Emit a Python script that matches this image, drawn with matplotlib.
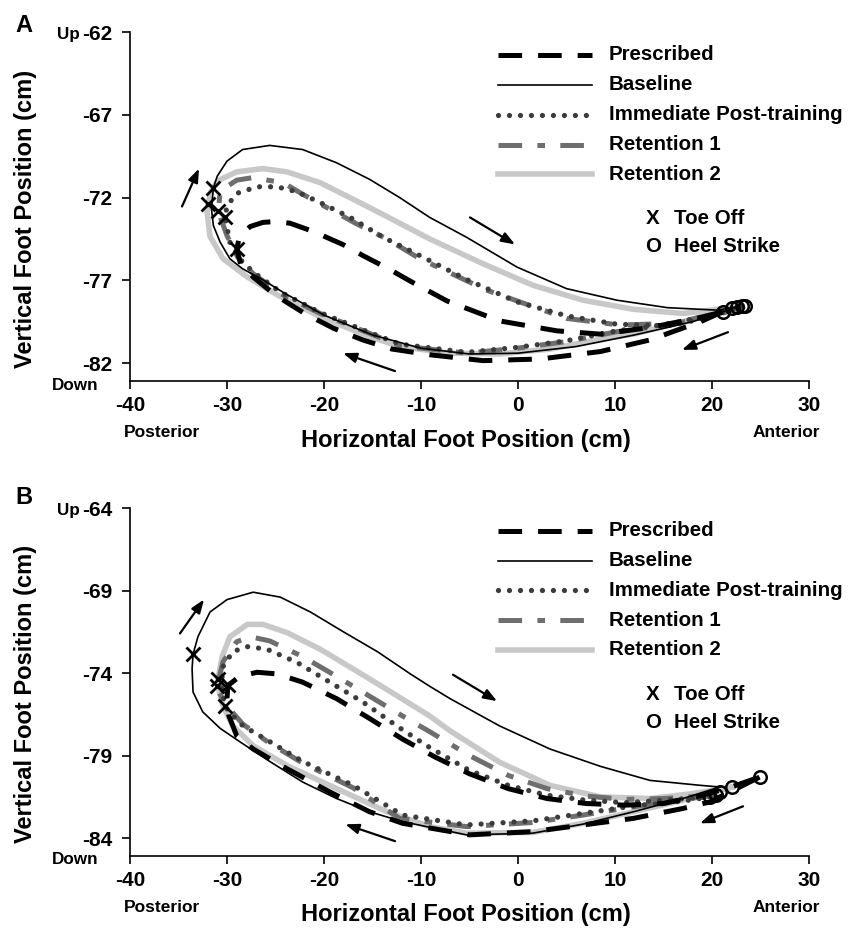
import numpy as np
import matplotlib
matplotlib.use('Agg')
import matplotlib.pyplot as plt

plt.rcParams['font.family'] = ['Liberation Sans', 'DejaVu Sans']
plt.rcParams['font.weight'] = 'bold'
plt.rcParams['axes.unicode_minus'] = False
plt.rcParams['lines.scale_dashes'] = False

# ---- panel A trajectories (x, y), heel strike -> stance -> toe off -> swing -> heel strike
a_prescribed = [(21.1, -78.9), (18.8, -79.5), (13.6, -80.6), (8.5, -81.3), (2.3, -81.75), (-3.6, -81.85),
                (-9.0, -81.5), (-13.0, -81.15), (-16.0, -80.6), (-19.0, -79.9), (-22.0, -79.0), (-25.0, -77.9),
                (-27.3, -76.8), (-28.6, -76.0), (-29.0, -75.1), (-28.8, -74.6), (-28.3, -74.1), (-27.6, -73.75),
                (-26.3, -73.5), (-25.0, -73.45), (-23.5, -73.55), (-21.1, -74.05), (-18.0, -74.85), (-16.0, -75.5),
                (-13.2, -76.35), (-11.1, -77.05), (-7.3, -78.25), (-1.9, -79.45), (4.0, -80.05), (8.5, -80.25),
                (13.6, -79.85), (18.8, -79.25), (21.1, -78.9)]
a_baseline = [(22.6, -78.6), (18.0, -79.5), (12.0, -80.3), (6.0, -81.0), (0.0, -81.4), (-5.0, -81.45),
              (-10.0, -81.1), (-15.0, -80.3), (-20.0, -79.1), (-24.0, -77.8), (-26.5, -76.9), (-28.4, -76.3),
              (-29.7, -75.7), (-30.7, -74.7), (-31.4, -73.7), (-31.6, -72.7), (-31.4, -71.4), (-31.0, -70.7),
              (-30.0, -69.8), (-28.4, -69.1), (-25.6, -68.85), (-22.2, -69.1), (-18.7, -69.9), (-15.3, -70.9),
              (-12.2, -72.0), (-9.1, -73.2), (-5.3, -74.4), (-0.1, -76.2), (5.0, -77.5), (10.2, -78.2),
              (15.4, -78.65), (20.5, -78.8), (22.6, -78.6)]
a_immediate = [(23.1, -78.55), (20.5, -79.05), (15.4, -79.65), (10.2, -80.05), (5.0, -80.65), (-0.1, -81.05),
               (-5.3, -81.35), (-12.2, -80.85), (-15.3, -80.15), (-20.4, -78.95), (-24.5, -77.7), (-27.3, -76.5),
               (-28.7, -75.7), (-29.7, -74.7), (-30.2, -73.2), (-30.0, -72.5), (-29.0, -71.75), (-26.9, -71.35),
               (-24.85, -71.35), (-22.8, -71.65), (-20.4, -72.3), (-17.3, -73.2), (-13.9, -74.4), (-10.8, -75.3),
               (-8.8, -75.9), (-5.3, -76.95), (-0.1, -78.3), (5.05, -79.15), (10.2, -79.65), (15.4, -79.75),
               (18.8, -79.35), (23.1, -78.55)]
a_retention1 = [(23.4, -78.55), (20.5, -79.1), (15.4, -79.7), (10.2, -80.1), (5.0, -80.7), (-0.1, -81.1),
                (-5.3, -81.4), (-12.2, -80.95), (-15.3, -80.2), (-20.4, -79.0), (-24.5, -77.8), (-27.3, -76.6),
                (-28.9, -75.6), (-30.0, -74.3), (-30.9, -72.85), (-30.7, -71.6), (-29.0, -70.95), (-27.4, -70.8),
                (-24.2, -71.1), (-22.2, -71.8), (-19.4, -72.7), (-16.6, -73.6), (-13.5, -74.5), (-10.1, -75.7),
                (-3.2, -77.6), (5.0, -79.3), (10.5, -79.7), (16.0, -79.6), (20.5, -79.0), (23.4, -78.55)]
a_retention2 = [(22.1, -78.65), (17.0, -79.5), (11.9, -80.25), (8.5, -80.55), (3.3, -81.15), (-1.9, -81.45),
                (-7.0, -81.4), (-12.2, -81.0), (-15.3, -80.4), (-20.4, -79.2), (-24.9, -77.85), (-27.9, -76.8),
                (-30.4, -75.7), (-31.75, -74.35), (-32.05, -72.9), (-31.96, -72.4), (-31.6, -71.6), (-31.0, -71.0),
                (-29.0, -70.45), (-26.3, -70.25), (-23.8, -70.45), (-20.4, -71.1), (-17.0, -72.1), (-13.5, -73.15),
                (-9.1, -74.5), (-3.6, -76.0), (1.55, -77.3), (6.7, -78.2), (11.9, -78.75), (17.0, -79.0),
                (22.1, -78.65)]
a_toe_x = [-31.44, -31.96, -30.93, -30.2, -28.97]
a_toe_y = [-71.4, -72.4, -72.84, -73.2, -75.1]
a_heel_x = [21.1, 22.1, 22.6, 23.1, 23.4]
a_heel_y = [-78.9, -78.65, -78.6, -78.55, -78.55]

# ---- panel B trajectories
b_prescribed = [(24.9, -80.3), (19.8, -81.8), (17.0, -82.2), (11.9, -82.8), (6.7, -83.2), (1.55, -83.6),
                (-5.0, -83.8), (-11.9, -83.1), (-15.3, -82.4), (-19.4, -81.2), (-23.8, -79.8), (-27.3, -78.6),
                (-29.0, -77.8), (-29.8, -76.6), (-30.0, -75.5), (-29.9, -74.75), (-28.7, -74.2), (-26.9, -73.95),
                (-24.85, -74.05), (-22.2, -74.55), (-18.7, -75.55), (-15.3, -76.75), (-11.9, -78.0), (-8.5, -79.1),
                (-5.0, -80.1), (-1.0, -81.0), (3.0, -81.6), (7.0, -81.9), (11.0, -82.0), (15.0, -81.9),
                (19.0, -81.4), (22.0, -80.9), (24.9, -80.3)]
b_baseline = [(20.8, -80.9), (17.0, -81.6), (11.9, -82.4), (6.7, -83.15), (1.5, -83.7), (-5.3, -83.8),
              (-11.9, -83.0), (-15.3, -82.4), (-18.7, -81.6), (-22.2, -80.6), (-25.6, -79.35), (-28.7, -78.15),
              (-30.7, -77.35), (-32.5, -76.35), (-33.5, -75.15), (-33.6, -73.75), (-33.5, -72.86), (-33.0, -71.8),
              (-31.75, -70.3), (-30.0, -69.55), (-27.3, -69.1), (-24.5, -69.4), (-21.4, -70.3), (-18.0, -71.5),
              (-14.5, -72.7), (-11.1, -74.05), (-9.1, -74.8), (-7.0, -75.55), (-1.9, -77.2), (3.3, -78.6),
              (8.5, -79.65), (13.6, -80.5), (18.8, -80.8), (20.8, -80.9)]
b_immediate = [(19.8, -81.5), (17.0, -81.75), (11.9, -82.05), (6.7, -82.5), (1.55, -82.95), (-5.3, -83.2),
               (-11.9, -82.6), (-17.0, -80.8), (-22.2, -79.35), (-25.6, -78.15), (-28.35, -77.2), (-29.7, -76.4),
               (-30.2, -76.0), (-30.6, -74.8), (-30.4, -73.6), (-29.4, -72.7), (-27.9, -72.4), (-25.9, -72.55),
               (-22.8, -73.35), (-19.4, -74.55), (-16.0, -75.75), (-12.5, -77.2), (-9.4, -78.4), (-5.0, -79.9),
               (-1.0, -80.8), (3.0, -81.4), (7.0, -81.7), (11.0, -81.85), (15.0, -81.7), (19.8, -81.5)]
b_retention1 = [(20.4, -81.4), (17.0, -81.65), (11.9, -82.1), (6.7, -82.6), (1.55, -83.05), (-5.3, -83.3),
                (-12.2, -82.8), (-17.0, -80.95), (-22.2, -79.45), (-25.6, -78.25), (-28.35, -77.1), (-30.0, -76.0),
                (-30.8, -75.2), (-31.03, -74.8), (-30.4, -73.3), (-29.0, -72.1), (-27.6, -71.8), (-25.6, -72.05),
                (-22.2, -73.0), (-18.7, -74.2), (-15.3, -75.4), (-11.9, -76.6), (-9.1, -77.55), (-5.0, -79.0),
                (-1.0, -80.2), (3.0, -81.0), (7.0, -81.45), (11.0, -81.65), (15.0, -81.6), (20.4, -81.4)]
b_retention2 = [(22.1, -80.9), (17.0, -81.7), (11.9, -82.4), (6.7, -83.1), (1.55, -83.65), (-5.3, -83.7),
                (-9.1, -83.3), (-13.5, -82.4), (-18.7, -81.0), (-23.8, -79.6), (-27.3, -78.4), (-29.4, -77.2),
                (-30.4, -76.0), (-30.8, -75.1), (-30.93, -74.36), (-30.5, -73.0), (-29.7, -71.8), (-27.9, -71.05),
                (-26.3, -71.05), (-23.8, -71.55), (-20.4, -72.55), (-17.0, -73.75), (-13.5, -75.0), (-9.1, -76.6),
                (-7.0, -77.5), (-1.9, -79.4), (3.3, -80.8), (8.5, -81.5), (13.6, -81.6), (18.0, -81.3), (22.1, -80.9)]
b_toe_x = [-33.5, -30.93, -31.03, -29.9, -30.2]
b_toe_y = [-72.86, -74.36, -74.8, -74.75, -76.0]
b_heel_x = [19.8, 20.4, 20.8, 22.1, 24.9]
b_heel_y = [-81.5, -81.4, -81.2, -80.9, -80.3]

labels = ['Prescribed', 'Baseline', 'Immediate Post-training', 'Retention 1', 'Retention 2']
styles = {
    'Prescribed': dict(color='black', lw=3.6, dashes=(17, 11.5), zorder=5),
    'Baseline': dict(color='black', lw=1.2, zorder=6),
    'Immediate Post-training': dict(color='#3c3c3c', lw=3.8, dashes=(0.01, 7.9),
                                    dash_capstyle='round', zorder=4),
    'Retention 1': dict(color='#6e6e6e', lw=3.6, dashes=(17, 11, 5.5, 11), zorder=3),
    'Retention 2': dict(color='#c8c8c8', lw=4.0, zorder=2),
}

W, H = 856, 933


def fpx(x, y):
    return x / W, 1 - y / H


fig = plt.figure(figsize=(8.56, 9.33), dpi=100)


def panel(top, bottom, ylim, yticks, curves, toe, heel, arrows, letter, letter_y):
    ax = fig.add_axes([130 / W, 1 - bottom / H, 679 / W, (bottom - top) / H])
    for lab, pts in zip(labels, curves):
        arr = np.array(pts)
        ax.plot(arr[:, 0], arr[:, 1], **styles[lab])
    ax.plot(toe[0], toe[1], 'x', color='black', ms=10, mew=2, zorder=8)
    ax.plot(heel[0], heel[1], 'o', mfc='none', mec='black', ms=9, mew=1.8, zorder=8)
    for (x0, y0), (x1, y1) in arrows:
        ax.annotate('', xy=(x1, y1), xytext=(x0, y0),
                    arrowprops=dict(arrowstyle='-|>,head_length=0.8,head_width=0.3',
                                    color='black', lw=1.6, shrinkA=0, shrinkB=0))
    ax.set_xlim(-40, 30)
    ax.set_ylim(*ylim)
    ax.set_xticks([-40, -30, -20, -10, 0, 10, 20, 30])
    ax.set_yticks(yticks)
    ax.spines['top'].set_visible(False)
    ax.spines['right'].set_visible(False)
    for s in ['left', 'bottom']:
        ax.spines[s].set_linewidth(1.2)
    ax.tick_params(direction='out', length=6, width=1.2, labelsize=15, pad=5)
    ax.tick_params(axis='y', pad=7)

    # legend drawn by hand
    rows = [0.935, 0.849, 0.763, 0.677, 0.592]
    for lab, ry in zip(labels, rows):
        ax.plot([0.542, 0.680], [ry, ry], transform=ax.transAxes, clip_on=False, **styles[lab])
        ax.text(0.705, ry, lab, transform=ax.transAxes, fontsize=14.8, fontweight='bold',
                va='center', ha='left')
    ax.text(0.770, 0.465, 'X', transform=ax.transAxes, fontsize=14.8, va='center', ha='center')
    ax.text(0.801, 0.465, 'Toe Off', transform=ax.transAxes, fontsize=14.8, va='center', ha='left')
    ax.text(0.770, 0.384, 'O', transform=ax.transAxes, fontsize=14.8, va='center', ha='center')
    ax.text(0.801, 0.384, 'Heel Strike', transform=ax.transAxes, fontsize=14.8, va='center', ha='left')

    fig.text(*fpx(80, top + 2), 'Up', fontsize=12.3, ha='right', va='center')
    fig.text(*fpx(75, bottom + 4), 'Down', fontsize=12.3, ha='center', va='center')
    fig.text(*fpx(162, bottom + 51), 'Posterior', fontsize=12.5, ha='center', va='center')
    fig.text(*fpx(786, bottom + 51), 'Anterior', fontsize=12.5, ha='center', va='center')
    fig.text(*fpx(466, bottom + 59), 'Horizontal Foot Position (cm)', fontsize=17,
             ha='center', va='center')
    fig.text(*fpx(26, (top + bottom) / 2 + 12), 'Vertical Foot Position (cm)', fontsize=17,
             ha='center', va='center', rotation=90)
    fig.text(*fpx(24, letter_y), letter, fontsize=17, ha='center', va='center')
    return ax


panel(32, 381, (-83.08, -62), [-82, -77, -72, -67, -62],
      [a_prescribed, a_baseline, a_immediate, a_retention1, a_retention2],
      (a_toe_x, a_toe_y), (a_heel_x, a_heel_y),
      [((-34.64, -72.54), (-32.89, -70.25)), ((-4.95, -73.2), (-0.31, -74.83)),
       ((21.65, -80.13), (16.9, -81.2)), ((-12.68, -82.48), (-18.04, -81.4))],
      'A', 25)
panel(508, 856, (-85.08, -64), [-84, -79, -74, -69, -64],
      [b_prescribed, b_baseline, b_immediate, b_retention1, b_retention2],
      (b_toe_x, b_toe_y), (b_heel_x, b_heel_y),
      [((-34.85, -71.6), (-32.37, -69.54)), ((-6.7, -74.1), (-2.16, -75.7)),
       ((23.2, -82.07), (18.76, -83.1)), ((-12.68, -84.18), (-17.8, -83.16))],
      'B', 498)

fig.savefig('out.png', dpi=100)
